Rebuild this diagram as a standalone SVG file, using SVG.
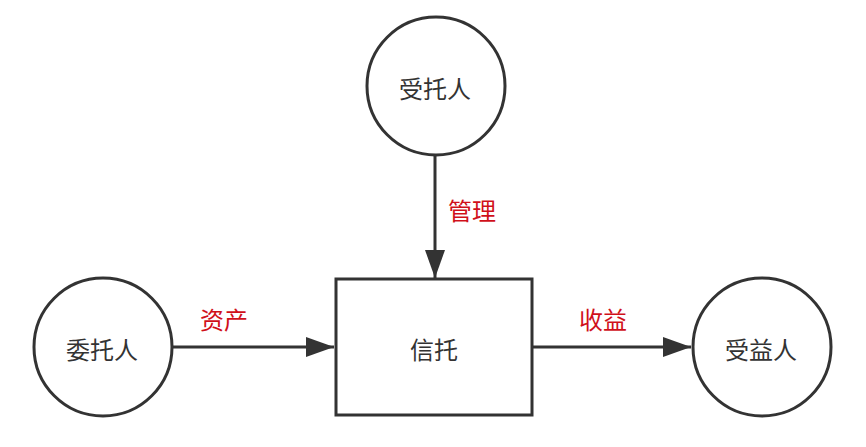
<svg xmlns="http://www.w3.org/2000/svg" width="866" height="447" viewBox="0 0 866 447">
<style>
.node{fill:#fff;stroke:#333;stroke-width:3}
.t{font-family:"Noto Sans CJK SC","Noto Sans",sans-serif;font-size:24px;fill:#333;text-anchor:middle;dominant-baseline:central}
.lbl{font-family:"Noto Sans CJK SC","Noto Sans",sans-serif;font-size:24px;fill:#d0101a;text-anchor:middle;dominant-baseline:central}
.edge{stroke:#333;stroke-width:3;fill:none}
</style>
<defs>
<marker id="ah" viewBox="0 0 28 20" refX="28" refY="10" markerWidth="28" markerHeight="20" markerUnits="userSpaceOnUse" orient="auto">
<path d="M0,0 L28,10 L0,20 Z" fill="#333"/>
</marker>
</defs>
<rect width="866" height="447" fill="#fff"/>
<g id="connectors">
<line class="edge" x1="435" y1="155" x2="435" y2="278" marker-end="url(#ah)"/>
<line class="edge" x1="172" y1="347" x2="334" y2="347" marker-end="url(#ah)"/>
<line class="edge" x1="533" y1="347" x2="691" y2="347" marker-end="url(#ah)"/>
<text class="lbl" x="472" y="209">管理</text>
<text class="lbl" x="224" y="318">资产</text>
<text class="lbl" x="603" y="318">收益</text>
</g>
<g id="trustee">
<circle class="node" cx="436" cy="86" r="69"/>
<text class="t" x="435" y="87">受托人</text>
</g>
<g id="settlor">
<circle class="node" cx="103" cy="347" r="69"/>
<text class="t" x="102" y="348">委托人</text>
</g>
<g id="trust">
<rect class="node" x="336" y="279" width="196" height="136"/>
<text class="t" x="434" y="348">信托</text>
</g>
<g id="beneficiary">
<circle class="node" cx="762" cy="347" r="69"/>
<text class="t" x="761" y="348">受益人</text>
</g>
</svg>
